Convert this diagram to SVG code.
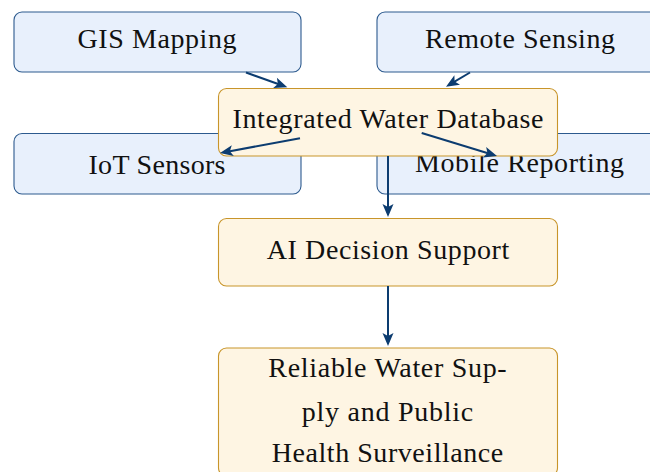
<svg xmlns="http://www.w3.org/2000/svg" width="650" height="472" viewBox="0 0 650 472">
  <style>
    .blue { fill: #E8F0FC; stroke: #2C5A8E; stroke-width: 1.1; }
    .orange { fill: #FEF5E3; stroke: #C8952A; stroke-width: 1.1; }
    text { font-family: 'Times New Roman', 'Liberation Serif', Tinos, 'Nimbus Roman', Times, serif; font-size: 28px; fill: #111; text-anchor: middle; }
    .edge { stroke: #0C3C70; stroke-width: 2; fill: none; marker-end: url(#arrow); }
  </style>
  <defs>
    <marker id="arrow" markerUnits="userSpaceOnUse" markerWidth="14" markerHeight="12" refX="7" refY="5.5" orient="auto" overflow="visible">
      <path d="M0,0 L13,5.5 L0,11 L3,5.5 Z" fill="#0C3C70"/>
    </marker>
  </defs>
  <rect width="650" height="472" fill="#FFFFFF"/>
  <g id="gis">
    <rect class="blue" x="14" y="12" width="287" height="60" rx="8"/>
    <text x="157" y="48.3" textLength="159" lengthAdjust="spacing">GIS Mapping</text>
  </g>
  <g id="remote">
    <rect class="blue" x="377" y="12" width="287" height="60" rx="8"/>
    <text x="520" y="48.3" textLength="190" lengthAdjust="spacing">Remote Sensing</text>
  </g>
  <g id="iot">
    <rect class="blue" x="14" y="133.5" width="287" height="60.5" rx="8"/>
    <text x="157" y="174.3" textLength="137" lengthAdjust="spacing">IoT Sensors</text>
  </g>
  <g id="mobile">
    <rect class="blue" x="377" y="133.5" width="287" height="60.5" rx="8"/>
    <text x="519.5" y="171.8" textLength="209" lengthAdjust="spacing">Mobile Reporting</text>
  </g>
  <g id="database">
    <rect class="orange" x="218.5" y="88.5" width="339" height="67.5" rx="8"/>
    <text x="388" y="128.3" textLength="311" lengthAdjust="spacing">Integrated Water Database</text>
  </g>
  <g id="ai">
    <rect class="orange" x="218.5" y="218.5" width="339" height="67.5" rx="8"/>
    <text x="388" y="258.7" textLength="242.6" lengthAdjust="spacing">AI Decision Support</text>
  </g>
  <g id="outcome">
    <rect class="orange" x="218.5" y="348" width="339" height="128" rx="8"/>
    <text x="387.5" y="377.3" textLength="238.4" lengthAdjust="spacing">Reliable Water Sup-</text>
    <text x="387.5" y="421" textLength="171.6" lengthAdjust="spacing">ply and Public</text>
    <text x="387.5" y="462" textLength="231.6" lengthAdjust="spacing">Health Surveillance</text>
  </g>
  <g id="connectors">
    <line class="edge" x1="246" y1="72.5" x2="281.65" y2="85.28"/>
    <line class="edge" x1="470" y1="72.5" x2="451.16" y2="83.65"/>
    <line class="edge" x1="300" y1="138.3" x2="225.9" y2="151.92"/>
    <line class="edge" x1="421.7" y1="133" x2="491.26" y2="154.25"/>
    <line class="edge" x1="388" y1="156" x2="388" y2="211"/>
    <line class="edge" x1="388" y1="286" x2="388" y2="340"/>
  </g>
</svg>
